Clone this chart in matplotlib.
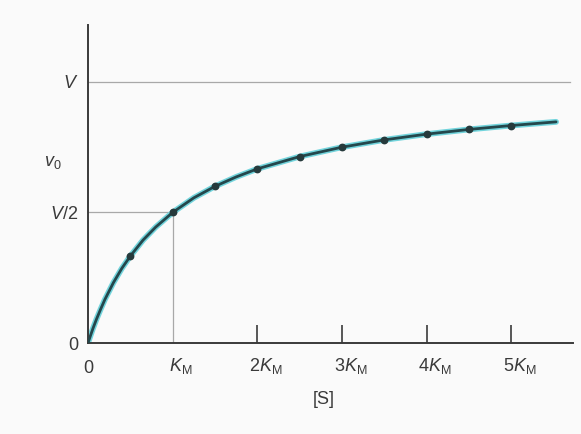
import numpy as np
import matplotlib
matplotlib.use('Agg')
import matplotlib.pyplot as plt
import matplotlib.transforms as mtransforms

plt.rcParams['font.family'] = ['Liberation Sans', 'DejaVu Sans']
plt.rcParams['mathtext.fontset'] = 'custom'
plt.rcParams['mathtext.rm'] = 'Liberation Sans'
plt.rcParams['mathtext.it'] = 'Liberation Sans:italic'

# substrate concentration in units of K_M, rate in units of V
curve_s = [0, 0.03, 0.06, 0.1, 0.15, 0.2, 0.3, 0.4, 0.5, 0.65, 0.8, 1.0, 1.25,
           1.5, 1.75, 2.0, 2.5, 3.0, 3.5, 4.0, 4.5, 5.0, 5.53]
curve_v = [0, 0.029, 0.057, 0.091, 0.130, 0.167, 0.231, 0.286, 0.333, 0.394,
           0.444, 0.500, 0.556, 0.600, 0.636, 0.667, 0.714, 0.750, 0.778,
           0.800, 0.818, 0.833, 0.847]

dots_s = [0.5, 1.0, 1.5, 2.0, 2.5, 3.0, 3.5, 4.0, 4.5, 5.0]
dots_v = [0.333, 0.500, 0.600, 0.667, 0.714, 0.750, 0.778, 0.800, 0.818, 0.833]

xtick_pos = [0, 1, 2, 3, 4, 5]
xtick_labels = ['0', r'$K_\mathrm{M}$', r'$2K_\mathrm{M}$', r'$3K_\mathrm{M}$',
                r'$4K_\mathrm{M}$', r'$5K_\mathrm{M}$']
ytick_pos = [0, 0.5, 1.0]
ytick_labels = ['0', r'$V/2$', r'$V$']

txt_color = '#3a3a3a'
fs = 13

fig = plt.figure(figsize=(5.81, 4.34), dpi=100, facecolor='#fafafa')
ax = fig.add_axes([88 / 581, 91 / 434, 485 / 581, 318 / 434])
ax.set_facecolor('#fafafa')

ax.set_xlim(0, 5.73)
ax.set_ylim(0, 1.218)

# guide lines for V, V/2 and K_M
ax.plot([0, 5.7], [1.0, 1.0], color='#a8a8a8', lw=0.9, zorder=1)
ax.plot([0, 1.0], [0.5, 0.5], color='#a8a8a8', lw=0.9, zorder=1)
ax.plot([1.0, 1.0], [0, 0.5], color='#a8a8a8', lw=0.9, zorder=1)

# curve with cyan halo
ax.plot(curve_s, curve_v, color='#72d4dc', lw=4.2, solid_capstyle='round', zorder=2)
ax.plot(curve_s, curve_v, color='#24474c', lw=2.0, solid_capstyle='round', zorder=3)
ax.plot(dots_s, dots_v, 'o', color='#263a3c', ms=4.6, zorder=4)

for side in ['top', 'right']:
    ax.spines[side].set_visible(False)
for side in ['left', 'bottom']:
    ax.spines[side].set_color('#3a3a3a')
    ax.spines[side].set_linewidth(1.4)

ax.set_xticks(xtick_pos)
ax.set_xticklabels(xtick_labels, fontsize=fs, color=txt_color)
ax.tick_params(axis='x', direction='in', length=13, width=1.2, color='#3a3a3a', pad=9)
for t in ax.xaxis.get_major_ticks()[:2]:
    t.tick1line.set_visible(False)
offset = mtransforms.ScaledTranslation(6 / 72, 0, fig.dpi_scale_trans)
for lab in ax.get_xticklabels()[1:]:
    lab.set_transform(lab.get_transform() + offset)
zero_shift = mtransforms.ScaledTranslation(0, -3 / 72, fig.dpi_scale_trans)
zero_lab = ax.get_xticklabels()[0]
zero_lab.set_transform(zero_lab.get_transform() + zero_shift)

ax.set_yticks(ytick_pos)
ax.set_yticklabels(ytick_labels, fontsize=fs, color=txt_color)
ax.tick_params(axis='y', length=0, pad=7)

ax.text(-0.31, 0.69, r'$v_0$', fontsize=fs, color=txt_color, ha='right', va='center')
ax.set_xlabel('[S]', fontsize=fs, color=txt_color)
ax.xaxis.set_label_coords((324 - 88) / 485, -(400 - 343) / 318)
ax.xaxis.label.set_va('center')

fig.savefig('out.png', dpi=100, facecolor=fig.get_facecolor())
